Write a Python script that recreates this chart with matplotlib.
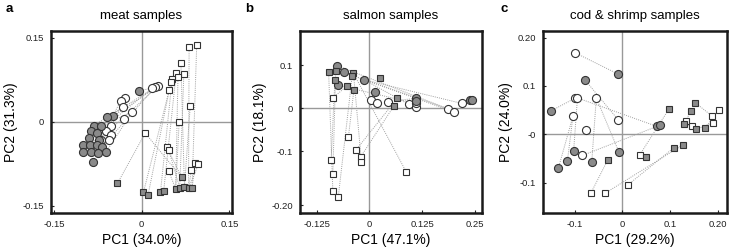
import matplotlib
matplotlib.use("Agg")
import matplotlib.pyplot as plt

plt.rcParams["font.family"] = ["Liberation Sans", "DejaVu Sans"]

# panel a - meat samples
a_gc_x = [-0.0045, -0.049, -0.059, -0.082, -0.069, -0.0875, -0.077, -0.090, -0.073, -0.100,
          -0.089, -0.077, -0.068, -0.061, -0.100, -0.086, -0.074, -0.084]
a_gc_y = [0.056, 0.010, 0.008, -0.0065, -0.007, -0.017, -0.020, -0.029, -0.032, -0.042,
          -0.042, -0.042, -0.045, -0.054, -0.053, -0.053, -0.055, -0.071]
a_wc_x = [0.028, 0.023, 0.018, -0.029, -0.036, -0.032, -0.016, -0.031, -0.053, -0.061, -0.053, -0.069, -0.056]
a_wc_y = [0.064, 0.062, 0.060, 0.042, 0.037, 0.026, 0.018, 0.006, -0.007, -0.016, -0.023, -0.032, -0.032]
a_ws_x = [0.094, 0.081, 0.067, 0.059, 0.072, 0.062, 0.052, 0.050, 0.047, 0.083, 0.064, 0.006,
          0.043, 0.046, 0.046, 0.0915, 0.097, 0.085]
a_ws_y = [0.1375, 0.134, 0.105, 0.088, 0.085, 0.081, 0.076, 0.072, 0.057, 0.029, 0.000, -0.020,
          -0.045, -0.050, -0.0875, -0.074, -0.076, -0.086]
a_gs_x = [-0.0415, 0.003, 0.011, 0.032, 0.0375, 0.068, 0.058, 0.065, 0.073, 0.080, 0.086]
a_gs_y = [-0.110, -0.126, -0.130, -0.126, -0.124, -0.099, -0.120, -0.118, -0.116, -0.119, -0.119]
a_circ_links = [(0, 2), (1, 0), (2, 1), (4, 6), (6, 2), (8, 0), (12, 1), (13, 6), (3, 5),
                (11, 4), (16, 3), (5, 8), (10, 9), (15, 11), (7, 10)]
a_sq_links = [(0, 10), (1, 9), (2, 8), (3, 4), (4, 7), (5, 6), (6, 3), (7, 2), (8, 1), (9, 8),
              (10, 6), (11, 0), (11, 5), (12, 5), (13, 7), (14, 6), (15, 10), (16, 9), (17, 9)]

# panel b - salmon samples
b_gc_x = [-0.0775, -0.061, -0.0127, -0.074, 0.0127, 0.111, 0.111, 0.239, 0.243]
b_gc_y = [0.099, 0.083, 0.066, 0.053, 0.037, 0.023, 0.017, 0.019, 0.019]
b_wc_x = [0.003, 0.019, 0.044, 0.093, 0.111, 0.111, 0.187, 0.201, 0.220]
b_wc_y = [0.018, 0.011, 0.0155, 0.009, 0.003, 0.011, -0.0015, -0.009, 0.011]
b_ws_x = [-0.087, -0.050, -0.033, -0.021, -0.019, -0.091, -0.087, -0.087, -0.074, 0.087]
b_ws_y = [0.024, -0.067, -0.098, -0.113, -0.125, -0.119, -0.152, -0.191, -0.205, -0.147]
b_gs_x = [-0.097, -0.080, -0.038, -0.041, -0.082, -0.053, -0.037, 0.025, 0.066, 0.0585]
b_gs_y = [0.085, 0.087, 0.081, 0.075, 0.066, 0.052, 0.042, 0.070, 0.023, 0.006]
b_circ_links = [(0, 6), (1, 7), (2, 3), (3, 5), (4, 0), (5, 2), (6, 4), (7, 8), (2, 8), (1, 6)]
b_sq_links = [(0, 5), (1, 6), (2, 8), (3, 9), (4, 2), (5, 4), (6, 1), (7, 0), (8, 3), (9, 2)]

# panel c - cod & shrimp samples
c_gc_x = [-0.008, -0.078, -0.150, -0.102, -0.115, -0.134, -0.064, -0.007, 0.073, 0.080]
c_gc_y = [0.124, 0.112, 0.048, -0.034, -0.055, -0.070, -0.057, -0.037, 0.016, 0.019]
c_wc_x = [-0.100, -0.100, -0.094, -0.0545, -0.1035, -0.077, -0.008, -0.084]
c_wc_y = [0.169, 0.074, 0.075, 0.075, 0.037, 0.009, 0.029, -0.044]
c_ws_x = [0.134, 0.145, 0.189, 0.2035, 0.191, 0.037, 0.0126, -0.066, -0.036]
c_ws_y = [0.028, 0.016, 0.037, 0.051, 0.024, -0.042, -0.104, -0.122, -0.122]
c_gs_x = [0.098, 0.153, 0.143, 0.129, 0.154, 0.173, 0.108, 0.127, 0.050, -0.031]
c_gs_y = [0.0525, 0.065, 0.049, 0.022, 0.010, 0.012, -0.028, -0.022, -0.047, -0.054]
c_circ_links = [(0, 0), (1, 6), (2, 1), (3, 2), (4, 4), (5, 4), (6, 3), (7, 3), (8, 2), (9, 7)]
c_sq_links = [(0, 2), (1, 3), (2, 1), (3, 5), (4, 4), (5, 0), (5, 8), (6, 6), (7, 9), (8, 7)]

panels = [
    dict(letter="a", title="meat samples", xlabel="PC1 (34.0%)", ylabel="PC2 (31.3%)",
         xlim=(-0.155, 0.154), ylim=(-0.163, 0.1625),
         xticks=[-0.15, 0, 0.15], xticklabels=["-0.15", "0", "0.15"],
         yticks=[-0.15, 0, 0.15], yticklabels=["-0.15", "0", "0.15"],
         gc=(a_gc_x, a_gc_y), wc=(a_wc_x, a_wc_y), ws=(a_ws_x, a_ws_y), gs=(a_gs_x, a_gs_y),
         cl=a_circ_links, sl=a_sq_links, pos=[0.070, 0.141, 0.248, 0.734], lx=0.008),
    dict(letter="b", title="salmon samples", xlabel="PC1 (47.1%)", ylabel="PC2 (18.1%)",
         xlim=(-0.165, 0.267), ylim=(-0.243, 0.179),
         xticks=[-0.125, 0, 0.125, 0.25], xticklabels=["-0.125", "0", "0.125", "0.25"],
         yticks=[0.1, 0, -0.1, -0.225], yticklabels=["0.1", "0", "-0.1", "-0.20"],
         gc=(b_gc_x, b_gc_y), wc=(b_wc_x, b_wc_y), ws=(b_ws_x, b_ws_y), gs=(b_gs_x, b_gs_y),
         cl=b_circ_links, sl=b_sq_links, pos=[0.4115, 0.141, 0.2495, 0.734], lx=0.336),
    dict(letter="c", title="cod & shrimp samples", xlabel="PC1 (29.2%)", ylabel="PC2 (24.0%)",
         xlim=(-0.166, 0.219), ylim=(-0.163, 0.2135),
         xticks=[-0.1, 0, 0.1, 0.2], xticklabels=["-0.1", "0", "0.1", "0.20"],
         yticks=[0.2, 0.1, 0, -0.1], yticklabels=["0.20", "0.1", "-0", "-0.1"],
         gc=(c_gc_x, c_gc_y), wc=(c_wc_x, c_wc_y), ws=(c_ws_x, c_ws_y), gs=(c_gs_x, c_gs_y),
         cl=c_circ_links, sl=c_sq_links, pos=[0.745, 0.141, 0.252, 0.734], lx=0.687),
]

fig = plt.figure(figsize=(7.29, 2.48), dpi=100)

gray = "#8a8a8a"
edge = "#333333"
link_kw = dict(color="#a0a0a0", lw=0.7, ls=(0, (1, 1.2)), zorder=1)

for p in panels:
    ax = fig.add_axes(p["pos"])
    ax.axhline(0, color="#999999", lw=1, zorder=0)
    ax.axvline(0, color="#999999", lw=1, zorder=0)

    gcx, gcy = p["gc"]
    wcx, wcy = p["wc"]
    wsx, wsy = p["ws"]
    gsx, gsy = p["gs"]
    for i, j in p["cl"]:
        ax.plot([gcx[i], wcx[j]], [gcy[i], wcy[j]], **link_kw)
    for i, j in p["sl"]:
        ax.plot([wsx[i], gsx[j]], [wsy[i], gsy[j]], **link_kw)

    ax.plot(wcx, wcy, "o", ms=5.8, mfc="white", mec=edge, mew=0.8, zorder=3)
    ax.plot(gcx, gcy, "o", ms=5.8, mfc=gray, mec=edge, mew=0.8, zorder=3)
    ax.plot(wsx, wsy, "s", ms=5.0, mfc="white", mec=edge, mew=0.8, zorder=3)
    ax.plot(gsx, gsy, "s", ms=5.0, mfc=gray, mec=edge, mew=0.8, zorder=3)

    ax.set_xlim(p["xlim"])
    ax.set_ylim(p["ylim"])
    ax.set_xticks(p["xticks"])
    ax.set_xticklabels(p["xticklabels"])
    ax.set_yticks(p["yticks"])
    ax.set_yticklabels(p["yticklabels"])
    ax.tick_params(direction="in", length=2, width=0.8, labelsize=6.8, colors="#222222", pad=5)
    for s in ax.spines.values():
        s.set_linewidth(1.8)
        s.set_color("#1a1a1a")

    ax.set_title(p["title"], fontsize=9.5, pad=9)
    ax.set_xlabel(p["xlabel"], fontsize=10, labelpad=3)
    ax.set_ylabel(p["ylabel"], fontsize=10, labelpad=3)

    fig.text(p["lx"], 0.965, p["letter"], fontsize=9.5, fontweight="bold", va="center")

fig.savefig("out.png", dpi=100)
